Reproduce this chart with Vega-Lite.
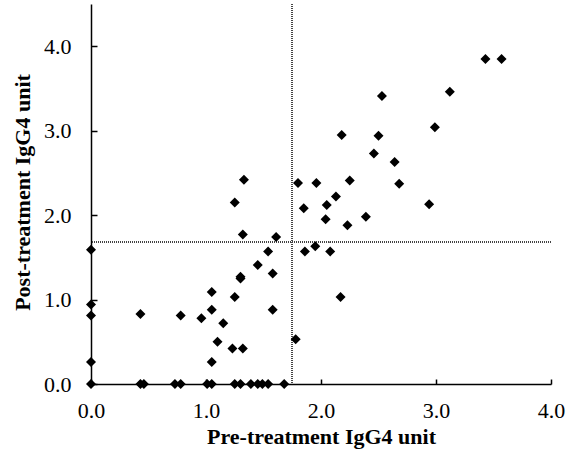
{
  "$schema": "https://vega.github.io/schema/vega-lite/v6.json",
  "width": 460,
  "height": 380,
  "autosize": {"type": "none"},
  "padding": {"left": 91, "top": 4, "right": 19, "bottom": 73},
  "background": "white",
  "config": {
    "view": {"stroke": null},
    "font": "Liberation Serif",
    "axis": {
      "labelFont": "Liberation Serif",
      "titleFont": "Liberation Serif",
      "labelFontSize": 22,
      "titleFontSize": 22,
      "titleFontWeight": "bold",
      "labelColor": "black",
      "titleColor": "black",
      "domainColor": "black",
      "domainWidth": 1.5,
      "tickColor": "black",
      "tickWidth": 1.5,
      "grid": false,
      "labelFlush": false,
      "labelOverlap": false
    }
  },
  "data": {
    "values": [
      {"pre": 0, "post": 1.59}, {"pre": 0, "post": 0.94}, {"pre": 0, "post": 0.81}, {"pre": 0, "post": 0.26}, {"pre": 0, "post": 0},
      {"pre": 0.43, "post": 0}, {"pre": 0.46, "post": 0}, {"pre": 0.73, "post": 0}, {"pre": 0.78, "post": 0},
      {"pre": 1.01, "post": 0}, {"pre": 1.05, "post": 0}, {"pre": 1.25, "post": 0}, {"pre": 1.30, "post": 0},
      {"pre": 1.39, "post": 0}, {"pre": 1.45, "post": 0}, {"pre": 1.49, "post": 0}, {"pre": 1.54, "post": 0}, {"pre": 1.68, "post": 0},
      {"pre": 0.43, "post": 0.83}, {"pre": 0.78, "post": 0.81}, {"pre": 0.96, "post": 0.78}, {"pre": 1.05, "post": 1.09},
      {"pre": 1.05, "post": 0.88}, {"pre": 1.05, "post": 0.26}, {"pre": 1.10, "post": 0.50}, {"pre": 1.15, "post": 0.72},
      {"pre": 1.23, "post": 0.42}, {"pre": 1.32, "post": 0.42}, {"pre": 1.25, "post": 1.03}, {"pre": 1.25, "post": 2.15},
      {"pre": 1.30, "post": 1.27}, {"pre": 1.30, "post": 1.25}, {"pre": 1.32, "post": 1.77}, {"pre": 1.33, "post": 2.42},
      {"pre": 1.45, "post": 1.41}, {"pre": 1.54, "post": 1.57}, {"pre": 1.58, "post": 1.31}, {"pre": 1.58, "post": 0.88},
      {"pre": 1.61, "post": 1.74}, {"pre": 1.78, "post": 0.53}, {"pre": 1.80, "post": 2.38}, {"pre": 1.85, "post": 2.08},
      {"pre": 1.86, "post": 1.57}, {"pre": 1.95, "post": 1.63}, {"pre": 1.96, "post": 2.38}, {"pre": 2.04, "post": 1.95},
      {"pre": 2.05, "post": 2.12}, {"pre": 2.08, "post": 1.57}, {"pre": 2.13, "post": 2.22}, {"pre": 2.17, "post": 1.03},
      {"pre": 2.18, "post": 2.95}, {"pre": 2.23, "post": 1.88}, {"pre": 2.25, "post": 2.41}, {"pre": 2.39, "post": 1.98},
      {"pre": 2.46, "post": 2.73}, {"pre": 2.50, "post": 2.94}, {"pre": 2.53, "post": 3.41}, {"pre": 2.64, "post": 2.63},
      {"pre": 2.68, "post": 2.37}, {"pre": 2.94, "post": 2.13}, {"pre": 2.99, "post": 3.04}, {"pre": 3.12, "post": 3.46},
      {"pre": 3.43, "post": 3.85}, {"pre": 3.57, "post": 3.85}
    ]
  },
  "encoding": {
    "x": {
      "field": "pre", "type": "quantitative",
      "scale": {"domain": [0, 4], "nice": false, "zero": false},
      "axis": {
        "title": "Pre-treatment IgG4 unit",
        "values": [0, 1, 2, 3, 4],
        "format": ".1f",
        "tickSize": -5,
        "labelPadding": 21,
        "titleBaseline": "alphabetic",
        "titleY": 59
      }
    },
    "y": {
      "field": "post", "type": "quantitative",
      "scale": {"domain": [0, 4.5], "nice": false, "zero": false},
      "axis": {
        "title": "Post-treatment IgG4 unit",
        "values": [0, 1, 2, 3, 4],
        "format": ".1f",
        "tickSize": -6,
        "labelPadding": 26,
        "titleAngle": -90,
        "titleBaseline": "alphabetic",
        "titleAlign": "center",
        "titleX": -62,
        "titleY": 188
      }
    }
  },
  "layer": [
    {
      "mark": {"type": "rule", "color": "#444", "strokeWidth": 1, "strokeDash": [1, 1]},
      "encoding": {"x": {"datum": 1.75}, "y": null}
    },
    {
      "mark": {"type": "rule", "color": "#444", "strokeWidth": 1, "strokeDash": [1, 1]},
      "encoding": {"y": {"datum": 1.68}, "x": null}
    },
    {
      "mark": {"type": "point", "shape": "diamond", "filled": true, "color": "black", "opacity": 1, "size": 100}
    }
  ]
}
